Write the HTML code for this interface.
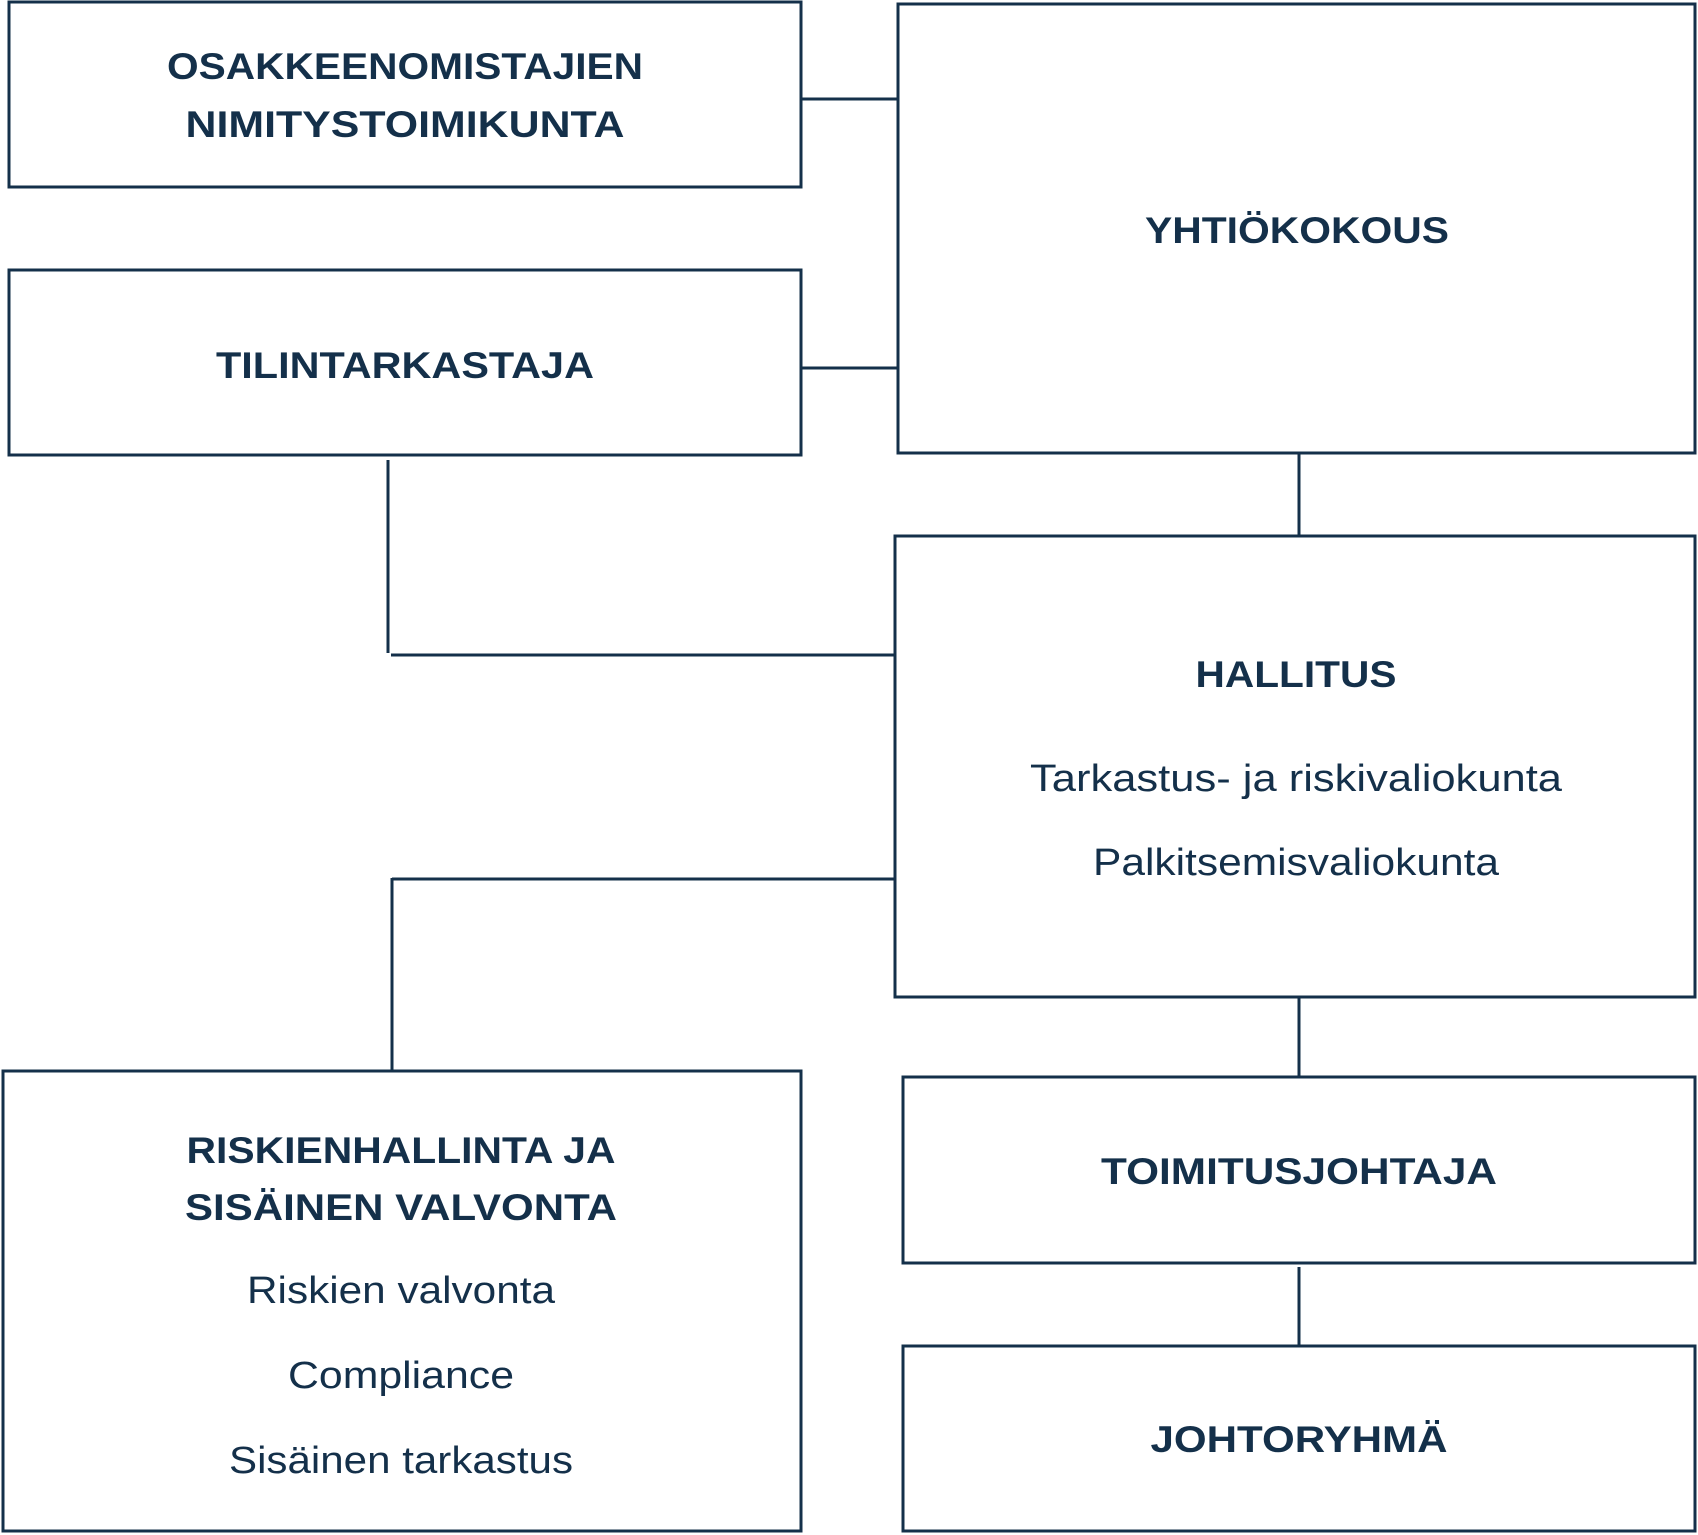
<!DOCTYPE html>
<html><head><meta charset="utf-8"><style>html,body{margin:0;padding:0;background:#fff;width:1698px;height:1535px;overflow:hidden}</style></head>
<body>
<svg width="1698" height="1535" viewBox="0 0 1698 1535" xmlns="http://www.w3.org/2000/svg">
<g fill="none" stroke="#14304a" stroke-width="3">
<rect x="9" y="2" width="792" height="185"/>
<rect x="9" y="270" width="792" height="185"/>
<rect x="898" y="4" width="797" height="449"/>
<rect x="895" y="536" width="800" height="461"/>
<rect x="3" y="1071" width="798" height="460"/>
<rect x="903" y="1077" width="792" height="186"/>
<rect x="903" y="1346" width="792" height="185"/>
<line x1="801" y1="99" x2="898" y2="99"/>
<line x1="801" y1="368" x2="898" y2="368"/>
<line x1="1299" y1="453" x2="1299" y2="536"/>
<line x1="388" y1="460" x2="388" y2="653"/>
<line x1="391" y1="655" x2="895" y2="655"/>
<line x1="392" y1="879" x2="895" y2="879"/>
<line x1="392" y1="878" x2="392" y2="1071"/>
<line x1="1299" y1="997" x2="1299" y2="1077"/>
<line x1="1299" y1="1267" x2="1299" y2="1346"/>
</g>
<g fill="#14304a" font-family="Liberation Sans, sans-serif" text-anchor="middle">
<g font-weight="bold" font-size="37">
<text x="405" y="79" textLength="476" lengthAdjust="spacingAndGlyphs">OSAKKEENOMISTAJIEN</text>
<text x="405" y="137" textLength="439" lengthAdjust="spacingAndGlyphs">NIMITYSTOIMIKUNTA</text>
<text x="1297" y="243" textLength="304" lengthAdjust="spacingAndGlyphs">YHTIÖKOKOUS</text>
<text x="405" y="378" textLength="378" lengthAdjust="spacingAndGlyphs">TILINTARKASTAJA</text>
<text x="1296" y="687" textLength="201" lengthAdjust="spacingAndGlyphs">HALLITUS</text>
<text x="401" y="1163" textLength="429" lengthAdjust="spacingAndGlyphs">RISKIENHALLINTA JA</text>
<text x="401" y="1220" textLength="432" lengthAdjust="spacingAndGlyphs">SISÄINEN VALVONTA</text>
<text x="1299" y="1184" textLength="396" lengthAdjust="spacingAndGlyphs">TOIMITUSJOHTAJA</text>
<text x="1299" y="1452" textLength="297" lengthAdjust="spacingAndGlyphs">JOHTORYHMÄ</text>
</g>
<g font-size="38">
<text x="1296" y="791" textLength="532" lengthAdjust="spacingAndGlyphs">Tarkastus- ja riskivaliokunta</text>
<text x="1296" y="875" textLength="406" lengthAdjust="spacingAndGlyphs">Palkitsemisvaliokunta</text>
<text x="401" y="1303" textLength="308" lengthAdjust="spacingAndGlyphs">Riskien valvonta</text>
<text x="401" y="1388" textLength="226" lengthAdjust="spacingAndGlyphs">Compliance</text>
<text x="401" y="1473" textLength="344" lengthAdjust="spacingAndGlyphs">Sisäinen tarkastus</text>
</g>
</g>
</svg>
</body></html>
